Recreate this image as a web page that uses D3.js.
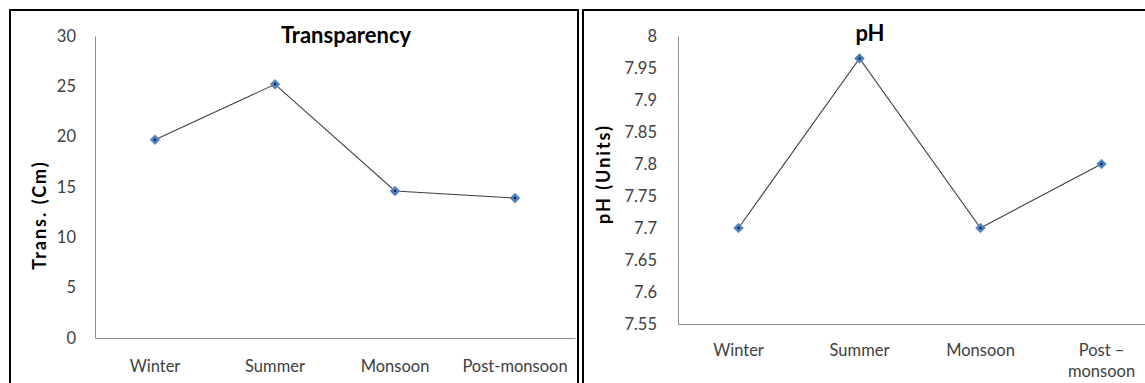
<!DOCTYPE html>
<html>
<head>
<meta charset="utf-8">
<script src="https://cdn.jsdelivr.net/npm/d3@7"></script>
<style>
  body { margin: 0; background: #fff; }
  svg text { font-family: Lato, "Open Sans", sans-serif; }
</style>
</head>
<body>
<svg id="chart" width="1145" height="383"></svg>
<script>
// data
const seasonsT = ["Winter", "Summer", "Monsoon", "Post-monsoon"];
const transValues = [19.7, 25.2, 14.6, 13.9];
const transTicks = [0, 5, 10, 15, 20, 25, 30];

const seasonsPH = ["Winter", "Summer", "Monsoon", "Post –\nmonsoon"];
const phValues = [7.70, 7.965, 7.70, 7.80];
const phTicks = [7.55, 7.6, 7.65, 7.7, 7.75, 7.8, 7.85, 7.9, 7.95, 8];

const svg = d3.select("#chart");

// panel frames
svg.append("path")
  .attr("d", "M10,383 V10 H578 V383")
  .attr("fill", "none").attr("stroke", "#000").attr("stroke-width", 2);
svg.append("path")
  .attr("d", "M583,383 V10 H1150")
  .attr("fill", "none").attr("stroke", "#000").attr("stroke-width", 2);

function drawChart(opts) {
  const g = svg.append("g");

  const xScale = d3.scaleBand()
    .domain(d3.range(opts.cats.length))
    .range([opts.left, opts.right]);

  const yScale = d3.scaleLinear()
    .domain(opts.domain)
    .range([opts.bottom, opts.top]);

  // y axis
  const yAxis = g.append("g")
    .attr("transform", "translate(" + opts.left + ",0)")
    .call(d3.axisLeft(yScale).tickValues(opts.ticks).tickSize(0).tickPadding(opts.yPad).tickFormat(opts.fmt));
  yAxis.select(".domain").attr("stroke", "#8c8c8c");
  yAxis.selectAll("text").attr("font-size", "16.5px").attr("fill", "#404040");

  // x axis
  const xAxis = g.append("g")
    .attr("transform", "translate(0," + opts.bottom + ")")
    .call(d3.axisBottom(xScale).tickSize(0).tickPadding(opts.xPad).tickFormat(() => ""));
  xAxis.select(".domain").attr("stroke", "#8c8c8c");

  xAxis.selectAll(".tick").each(function(d) {
    const lines = opts.cats[d].split("\n");
    const t = d3.select(this).select("text")
      .attr("font-size", "16.5px").attr("fill", "#404040");
    lines.forEach((ln, i) => {
      t.append("tspan").attr("x", 0).attr("dy", i === 0 ? "0.71em" : "1.3em").text(ln);
    });
  });

  // line
  const line = d3.line()
    .x((d, i) => xScale(i) + xScale.bandwidth() / 2)
    .y(d => yScale(d));

  g.append("path")
    .datum(opts.values)
    .attr("fill", "none")
    .attr("stroke", "#404040")
    .attr("stroke-width", 1.1)
    .attr("d", line);

  // markers
  const sym = d3.symbol().type(d3.symbolDiamond2).size(60);
  g.selectAll(".mk")
    .data(opts.values)
    .join("path")
      .attr("class", "mk")
      .attr("transform", (d, i) => "translate(" + (xScale(i) + xScale.bandwidth() / 2) + "," + yScale(d) + ")")
      .attr("d", sym)
      .attr("fill", "#4a7ebb")
      .attr("stroke", "#5b8fcf")
      .attr("stroke-width", 0.8);
  g.selectAll(".dot")
    .data(opts.values)
    .join("circle")
      .attr("class", "dot")
      .attr("cx", (d, i) => xScale(i) + xScale.bandwidth() / 2)
      .attr("cy", d => yScale(d))
      .attr("r", 1)
      .attr("fill", "#000");

  // title
  g.append("text")
    .attr("x", opts.titleX).attr("y", opts.titleY)
    .attr("text-anchor", "middle")
    .attr("font-size", "22px").attr("font-weight", "bold").attr("fill", "#000")
    .text(opts.title);

  // y label
  g.append("text")
    .attr("transform", "translate(" + opts.ylabX + "," + opts.ylabY + ") rotate(-90)")
    .attr("text-anchor", "middle")
    .attr("font-size", "18px").attr("font-weight", "bold").attr("fill", "#000")
    .attr("letter-spacing", "2px")
    .text(opts.ylab);
}

drawChart({
  cats: seasonsT, values: transValues, ticks: transTicks,
  domain: [0, 30], fmt: d3.format("d"),
  left: 95, right: 575, top: 36, bottom: 338,
  yPad: 19, xPad: 22,
  title: "Transparency", titleX: 346, titleY: 43,
  ylab: "Trans. (Cm)", ylabX: 46, ylabY: 215
});

drawChart({
  cats: seasonsPH, values: phValues, ticks: phTicks,
  domain: [7.55, 8], fmt: d => String(+d.toFixed(2)),
  left: 678, right: 1162, top: 36, bottom: 324,
  yPad: 21, xPad: 20,
  title: "pH", titleX: 870, titleY: 41,
  ylab: "pH (Units)", ylabX: 610, ylabY: 174
});
</script>
</body>
</html>
